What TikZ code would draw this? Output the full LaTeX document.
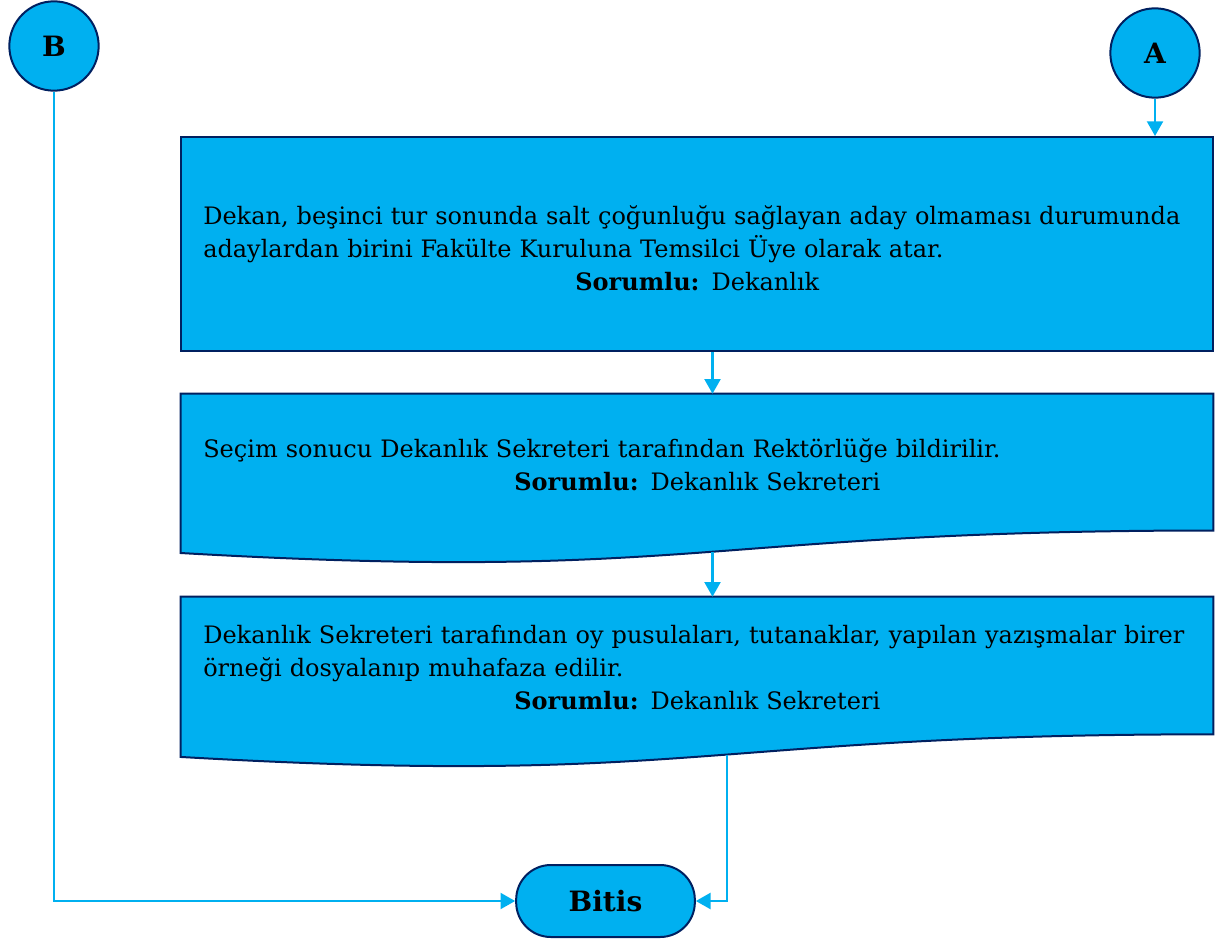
\documentclass[tikz,border=0pt]{standalone}
\usepackage{fontspec}
\setmainfont{DejaVu Serif}
\usetikzlibrary{calc,arrows.meta,positioning}

\definecolor{boxblue}{HTML}{00B0F0}
\definecolor{edgenavy}{HTML}{002060}

\newcommand{\sorumlu}[1]{\makebox[741pt]{\textbf{Sorumlu:} #1}}

\begin{document}
\begin{tikzpicture}[x=0.75pt, y=-0.75pt]
        \useasboundingbox (0,0) rectangle (1219,941);

        \begin{scope}[%
            every node/.style = {%
                draw = edgenavy,
                fill = boxblue,
                line width = 1.5pt,
                inner sep = 0pt,
                font = \fontsize{21pt}{24.75pt}\selectfont\bfseries
            }
        ]

            % Connectors A, B and the end node.
            \node[circle, minimum size = 67pt] (B) at (54, 46) {B};
            \node[circle, minimum size = 67pt] (A) at (1155, 53) {A};
            \node[rectangle, rounded corners = 26pt,
                  minimum width = 134pt, minimum height = 54pt] (bitis) at (605.5, 901) {Bitis};
        \end{scope}

        \begin{scope}[%
            every node/.style = {%
                rectangle,
                inner sep = 0pt,
                minimum width = 774pt
            },
            docshape/.style = {%
                draw = edgenavy,
                fill = boxblue,
                line width = 1.5pt
            }
        ]

            % Process boxes.
            \node[docshape, minimum height = 160.5pt] (b1) at (697, 244) {};
            \node[minimum height = 127.5pt] (b2) at (697, 479) {};
            \node[minimum height = 128.25pt] (b3) at (697, 682.5) {};

            % Wavy bottoms of the document boxes.
            \foreach \b/\t in {b2/0.48, b3/0.461} {
                \path[docshape] (\b.north west) -- (\b.north east)
                    -- ($(\b.north east)!0.802!(\b.south east)$)
                    .. controls ($(\b.north)!0.802!(\b.south)$)
                    and ($(\b.north)!1.1075!(\b.south)$)
                    .. ($(\b.north west)!0.934!(\b.south west)$)
                    coordinate[pos = \t] (\b out)
                    -- cycle;
            }
        \end{scope}

        \begin{scope}[%
            every node/.style = {%
                anchor = west,
                text width = 770pt,
                align = left,
                inner sep = 0pt,
                font = \fontsize{18pt}{24.75pt}\selectfont
            }
        ]

            % Texts of the boxes.
            \node (t1) at (203, 248) {Dekan, beşinci tur sonunda salt çoğunluğu sağlayan aday olmaması durumunda\\
                adaylardan birini Fakülte Kuruluna Temsilci Üye olarak atar.\\
                \sorumlu{Dekanlık}};
            \node (t2) at (203, 465) {Seçim sonucu Dekanlık Sekreteri tarafından Rektörlüğe bildirilir.\\
                \sorumlu{Dekanlık Sekreteri}};
            \node (t3) at (203, 668) {Dekanlık Sekreteri tarafından oy pusulaları, tutanaklar, yapılan yazışmalar birer\\
                örneği dosyalanıp muhafaza edilir.\\
                \sorumlu{Dekanlık Sekreteri}};
        \end{scope}

        \begin{scope}[%
            every path/.style = {%
                draw = boxblue,
                line width = 1.6pt,
                -{Triangle[length = 11pt, width = 12pt]}
            }
        ]

            % Connectors between the boxes.
            \path (A) -- (A |- b1.north);
            \path (b1.south -| b2out) -- (b2.north -| b2out);
            \path (b2out) -- (b2out |- b3.north);
            \path (b3out) |- (bitis.east);
            \path (B) |- (bitis.west);
        \end{scope}
    \end{tikzpicture}
\end{document}
